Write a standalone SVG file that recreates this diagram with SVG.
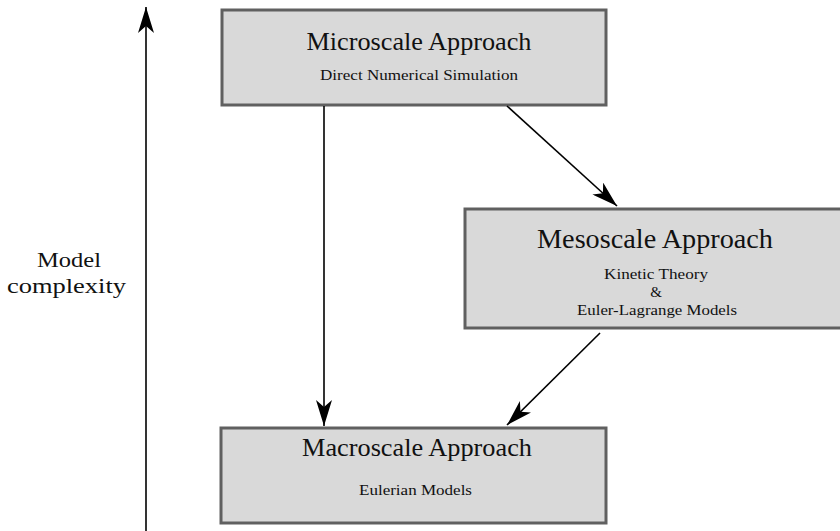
<svg xmlns="http://www.w3.org/2000/svg" width="840" height="531" viewBox="0 0 840 531">
<style>
.box{fill:#d9d9d9;stroke:#606060;stroke-width:3}
.t{font-family:"Liberation Serif","Times New Roman",serif;fill:#111;text-anchor:middle}
.big{font-size:25px}
.mbig{font-size:27px}
.small{font-size:15px}
.lbl{font-size:21px}
.con{stroke:#000;stroke-width:1.6;fill:none;marker-end:url(#ah)}
</style>
<defs>
<marker id="ah" markerUnits="userSpaceOnUse" viewBox="0 0 26 16" refX="26" refY="8" markerWidth="26" markerHeight="16" orient="auto">
<path d="M26,8 L0,0 L7,8 L0,16 Z" fill="#000"/>
</marker>
</defs>
<rect width="840" height="531" fill="#fff"/>
<g id="axis">
<line class="con" x1="146" y1="531" x2="146" y2="7"/>
<text class="t lbl" x="69" y="267" textLength="64" lengthAdjust="spacingAndGlyphs">Model</text>
<text class="t lbl" x="66.5" y="293" textLength="119" lengthAdjust="spacingAndGlyphs">complexity</text>
</g>
<g id="micro">
<rect class="box" x="222" y="10" width="384" height="95"/>
<text class="t big" x="419" y="50" textLength="225" lengthAdjust="spacingAndGlyphs">Microscale Approach</text>
<text class="t small" x="419" y="80" textLength="198" lengthAdjust="spacingAndGlyphs">Direct Numerical Simulation</text>
</g>
<g id="meso">
<rect class="box" x="465" y="209" width="380" height="119"/>
<text class="t mbig" x="655" y="248" textLength="236" lengthAdjust="spacingAndGlyphs">Mesoscale Approach</text>
<text class="t small" x="656" y="279" textLength="104" lengthAdjust="spacingAndGlyphs">Kinetic Theory</text>
<text class="t small" x="656" y="297">&amp;</text>
<text class="t small" x="657" y="315" textLength="160" lengthAdjust="spacingAndGlyphs">Euler-Lagrange Models</text>
</g>
<g id="macro">
<rect class="box" x="221" y="428" width="385" height="95"/>
<text class="t big" x="417" y="456" textLength="230" lengthAdjust="spacingAndGlyphs">Macroscale Approach</text>
<text class="t small" x="415.5" y="495" textLength="113" lengthAdjust="spacingAndGlyphs">Eulerian Models</text>
</g>
<g id="connectors">
<line class="con" x1="324" y1="106" x2="324" y2="426"/>
<line class="con" x1="507" y1="106" x2="617" y2="206"/>
<line class="con" x1="600" y1="333" x2="507" y2="425"/>
</g>
</svg>
